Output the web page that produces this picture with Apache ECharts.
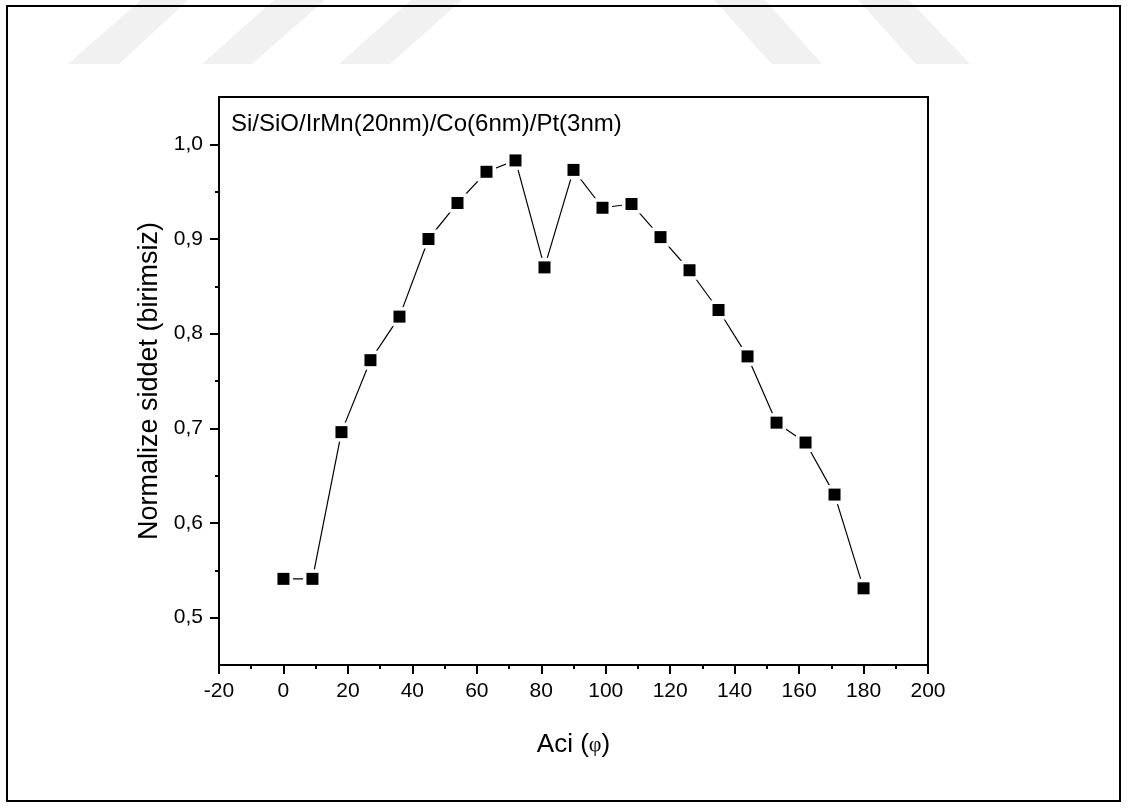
<!DOCTYPE html>
<html>
<head>
<meta charset="utf-8">
<script src="https://cdn.jsdelivr.net/npm/echarts@6/dist/echarts.min.js"></script>
<style>
html,body{margin:0;padding:0;background:#fff;}
#chart{width:1128px;height:812px;}
</style>
</head>
<body>
<div id="chart"></div>
<script>
// ---- data ----
const angles = [0, 9, 18, 27, 36, 45, 54, 63, 72, 81, 90, 99, 108, 117, 126, 135, 144, 153, 162, 171, 180];
const intensity = [0.541, 0.541, 0.696, 0.772, 0.818, 0.900, 0.938, 0.971, 0.983, 0.870, 0.973, 0.933, 0.937, 0.902, 0.867, 0.825, 0.776, 0.706, 0.685, 0.630, 0.531];
const yLabelValues = [0.5, 0.6, 0.7, 0.8, 0.9, 1.0];
const titleText = 'Si/SiO/IrMn(20nm)/Co(6nm)/Pt(3nm)';
const xName = 'Aci ({phi|φ})';
const yName = 'Normalize siddet (birimsiz)';

const points = angles.map((a, i) => [a, intensity[i]]);
const FONT = '"Liberation Sans", Arial, sans-serif';
const isLabelled = v => yLabelValues.some(t => Math.abs(t - v) < 1e-6);

const chart = echarts.init(document.getElementById('chart'), null, {renderer: 'canvas'});

const wm = '#f1f1f1';
const option = {
  backgroundColor: '#ffffff',
  animation: false,
  graphic: [
    {type: 'polygon', silent: true, z: 0, shape: {points: [[68, 64], [119, 64], [188, 0], [141, 0]]}, style: {fill: wm}},
    {type: 'polygon', silent: true, z: 0, shape: {points: [[202, 64], [252, 64], [325, 0], [274, 0]]}, style: {fill: wm}},
    {type: 'polygon', silent: true, z: 0, shape: {points: [[339, 64], [390, 64], [462, 0], [411, 0]]}, style: {fill: wm}},
    {type: 'polygon', silent: true, z: 0, shape: {points: [[772, 64], [822, 64], [765, 0], [714, 0]]}, style: {fill: wm}},
    {type: 'polygon', silent: true, z: 0, shape: {points: [[916, 64], [970, 64], [909, 0], [858, 0]]}, style: {fill: wm}},
    {type: 'rect', silent: true, z: 100, shape: {x: 7, y: 6, width: 1113, height: 795}, style: {fill: 'none', stroke: '#000', lineWidth: 2}},
    {type: 'text', z: 100, left: 231, top: 112, style: {text: titleText, font: '24px ' + FONT, fill: '#000'}}
  ],
  grid: {left: 219, top: 97, right: 200, bottom: 147, containLabel: false},
  xAxis: [
    {
      type: 'value', position: 'bottom', min: -20, max: 200, interval: 20,
      name: xName, nameLocation: 'middle', nameGap: 67,
      nameTextStyle: {fontFamily: FONT, fontSize: 26, color: '#000',
        rich: {phi: {fontFamily: '"Liberation Serif", serif', fontSize: 22, color: '#000'}}},
      axisLine: {show: true, onZero: false, lineStyle: {color: '#000', width: 2}},
      axisTick: {show: true, inside: false, length: 9, lineStyle: {color: '#000', width: 2}},
      minorTick: {show: true, splitNumber: 2, length: 4, lineStyle: {color: '#000', width: 2}},
      axisLabel: {fontFamily: FONT, fontSize: 21, color: '#000', margin: 16},
      splitLine: {show: false}, minorSplitLine: {show: false}
    },
    {
      type: 'value', position: 'top', min: -20, max: 200, interval: 20,
      axisLine: {show: true, onZero: false, lineStyle: {color: '#000', width: 2}},
      axisTick: {show: false}, axisLabel: {show: false}, splitLine: {show: false}
    }
  ],
  yAxis: [
    {
      type: 'value', position: 'left', min: 0.45, max: 1.05, interval: 0.05,
      name: yName, nameLocation: 'middle', nameGap: 52, nameRotate: 90,
      nameTextStyle: {fontFamily: FONT, fontSize: 27, color: '#000'},
      axisLine: {show: true, onZero: false, lineStyle: {color: '#000', width: 2}},
      axisTick: {show: true, inside: false, length: 4, lineStyle: {color: '#000', width: 2}},
      axisLabel: {fontFamily: FONT, fontSize: 21, color: '#000', margin: 16,
        showMinLabel: false, showMaxLabel: false,
        formatter: v => isLabelled(v) ? v.toFixed(1).replace('.', ',') : ''},
      splitLine: {show: false}
    },
    {
      // ticks counted from min 0.45: its minor ticks fall on the labelled values 0.5 ... 1.0 (long)
      type: 'value', position: 'left', min: 0.45, max: 1.05, interval: 0.1,
      axisLine: {show: false, onZero: false},
      axisTick: {show: false},
      minorTick: {show: true, splitNumber: 2, length: 9, lineStyle: {color: '#000', width: 2}},
      axisLabel: {show: false},
      splitLine: {show: false}, minorSplitLine: {show: false}
    },
    {
      type: 'value', position: 'right', min: 0.45, max: 1.05,
      axisLine: {show: true, onZero: false, lineStyle: {color: '#000', width: 2}},
      axisTick: {show: false}, axisLabel: {show: false}, splitLine: {show: false}
    }
  ],
  series: [
    {
      type: 'line', xAxisIndex: 0, yAxisIndex: 0, data: points,
      symbol: 'rect', symbolSize: 19, showAllSymbol: true,
      itemStyle: {color: '#ffffff', borderWidth: 0, opacity: 1},
      lineStyle: {color: '#000', width: 1.2},
      z: 2
    },
    {
      type: 'scatter', xAxisIndex: 0, yAxisIndex: 0, data: points,
      symbol: 'rect', symbolSize: 12,
      itemStyle: {color: '#000', opacity: 1},
      z: 3
    }
  ]
};
chart.setOption(option);
</script>
</body>
</html>
